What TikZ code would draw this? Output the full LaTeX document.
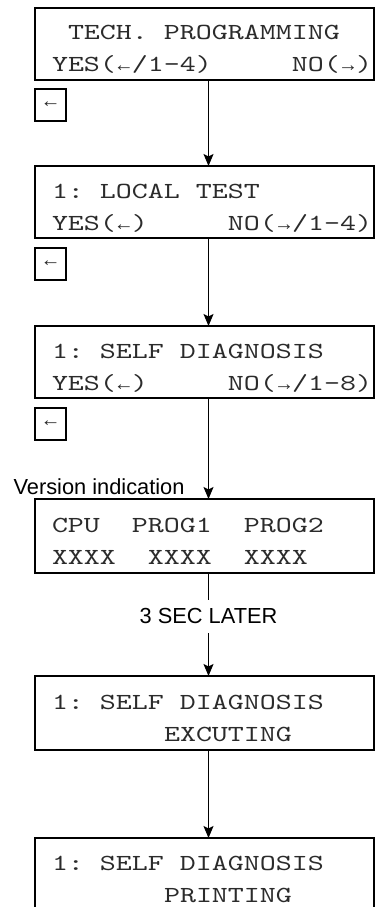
\documentclass[tikz,border=0pt]{standalone}
\usepackage{fontspec}
\usepackage{tikz}
\usetikzlibrary{arrows.meta, positioning}
\newfontfamily\lcdfont{lmmono10-regular.otf}[FakeStretch=1.325]
\newfontfamily\arrowfont{Liberation Mono}
\newfontfamily\notefont{Liberation Sans}
\definecolor{lcdgray}{HTML}{2B2B2B}
\newlength{\lcdw}
\setlength{\lcdw}{16pt}
% character cells: arrows and blanks
\newcommand{\la}{\makebox[\lcdw]{\arrowfont\fontsize{20}{20}\selectfont ←}}
\newcommand{\ra}{\makebox[\lcdw]{\arrowfont\fontsize{20}{20}\selectfont →}}
\newcommand{\blank}[1]{\hspace*{#1\lcdw}}
\newcommand{\lcdtwo}[2]{\rule{0pt}{29pt}\hspace*{15pt}#1\\\rule[-5pt]{0pt}{5pt}\hspace*{15pt}#2}

\begin{document}
\begin{tikzpicture}[
    every node/.style={inner sep=0pt, outer sep=0pt},
    lcd/.style={font={\lcdfont\fontsize{23}{32}\selectfont}},
    panel/.style={lcd, draw, line width=1.4pt, minimum width=339pt, minimum height=72pt, text width=335pt, align=left, text=lcdgray},
    keybox/.style={draw, line width=1.4pt, minimum width=31pt, minimum height=32pt, text=lcdgray},
    note/.style={font={\notefont\fontsize{21.8}{26}\selectfont}},
    flow/.style={-{Stealth[length=12pt, width=10pt, inset=2.5pt]}, line width=1.4pt}
]
    \useasboundingbox (0,0) rectangle (375pt,-907pt);

    % display panels
    \node[panel, anchor=north west] (b1) at (35pt,-8pt) {\lcdtwo{\blank1TECH.\blank1PROGRAMMING}{YES(\la/1-4)\hfill NO(\ra)}};
    \node[keybox, below right=9pt and 0pt of b1.south west] (k1) {\la};
    \node[panel, below=86pt of b1] (b2) {\lcdtwo{1:\blank1LOCAL\blank1TEST}{YES(\la)\hfill NO(\ra/1-4)}};
    \node[keybox, below right=10pt and 0pt of b2.south west] (k2) {\la};
    \node[panel, below=88pt of b2] (b3) {\lcdtwo{1:\blank1SELF\blank1DIAGNOSIS}{YES(\la)\hfill NO(\ra/1-8)}};
    \node[keybox, below right=10pt and 0pt of b3.south west] (k3) {\la};
    \node[panel, minimum height=74pt, below=101pt of b3] (b4) {\lcdtwo{CPU\blank2PROG1\blank2PROG2}{XXXX\blank2XXXX\blank2XXXX}};
    \node[panel, minimum height=74pt, below=103pt of b4] (b5) {\lcdtwo{1:\blank1SELF\blank1DIAGNOSIS}{\blank7EXCUTING}};
    \node[panel, below=88pt of b5] (b6) {\lcdtwo{1:\blank1SELF\blank1DIAGNOSIS}{\blank7PRINTING}};

    \node[note, anchor=base east] (vers) at ([xshift=-20pt, yshift=5pt]b4.north) {Version indication};

    % flow
    \draw[flow] ([xshift=4pt]b1.south) -- ([xshift=4pt]b2.north);
    \draw[flow] ([xshift=4pt]b2.south) -- ([xshift=4pt]b3.north);
    \draw[flow] ([xshift=4pt]b3.south) -- ([xshift=4pt]b4.north);
    \draw[flow] ([xshift=4pt]b4.south) -- node[note, fill=white, pos=0.42, inner ysep=9pt, inner xsep=2pt] (later) {3 SEC LATER} ([xshift=4pt]b5.north);
    \draw[flow] ([xshift=4pt]b5.south) -- ([xshift=4pt]b6.north);
\end{tikzpicture}
\end{document}
